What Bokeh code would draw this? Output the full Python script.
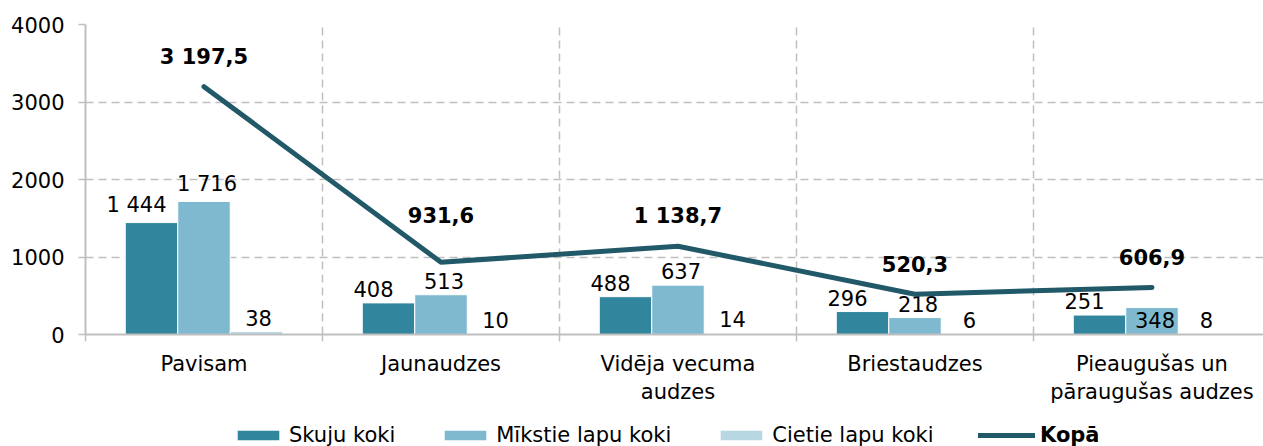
from bokeh.plotting import figure
from bokeh.layouts import column
from bokeh.models import (Range1d, FixedTicker, Legend, LegendItem, ColumnDataSource)
from bokeh.core.properties import value
from bokeh.embed import file_html
from bokeh.resources import INLINE

# ---- data ----
categories = ["Pavisam", "Jaunaudzes", "Vidēja vecuma\naudzes", "Briestaudzes",
              "Pieaugušas un\npāraugušas audzes"]
skuju = [1444, 408, 488, 296, 251]
mikstie = [1716, 513, 637, 218, 348]
cietie = [38, 10, 14, 6, 8]
kopa = [3197.5, 931.6, 1138.7, 520.3, 606.9]
series_names = ["Skuju koki", "Mīkstie lapu koki", "Cietie lapu koki"]
line_name = "Kopā"
y_ticks = [0, 1000, 2000, 3000, 4000]

# ---- style ----
C_DARK = "#31859C"
C_MID = "#7EB9CF"
C_LIGHT = "#B7D7E3"
C_LINE = "#215968"
GRID = "#BFBFBF"
FONT = "DejaVu Sans"
FS = "21px"
BW = 0.2215
W = 1263
H_MAIN = 412
H_LEG = 34
kopa_label_lift = [30, 47, 30, 30, 30]     # px above point (label centre)
mid_label_shift = [0, 0, 0, 0, 26]         # px moved down (manual placement)
series_label_dx = [-15, 3, 2]              # px horizontal nudge of bar labels

n = len(categories)
centers = [i + 0.5 for i in range(n)]

p = figure(width=W, height=H_MAIN, output_backend="svg", toolbar_location=None,
           x_range=Range1d(0, (W - 85) / 237), y_range=Range1d(0, 4000),
           min_border_left=85, min_border_right=0, min_border_top=24,
           min_border_bottom=H_MAIN - 334, outline_line_color=None)

def fmt_int(v):
    return f"{v:,}".replace(",", " ")

def fmt_dec(v):
    return f"{v:,.1f}".replace(",", " ").replace(".", ",")

colors = [C_DARK, C_MID, C_LIGHT]
for k, (vals, col) in enumerate(zip([skuju, mikstie, cietie], colors)):
    off = (k - 1) * BW
    xs = [c + off for c in centers]
    p.vbar(x=xs, top=vals, width=BW, fill_color=col, line_color="white", line_width=1)
    shifts = mid_label_shift if k == 1 else [0] * n
    src = ColumnDataSource(dict(x=xs, y=vals, t=[fmt_int(v) for v in vals],
                                yo=[-6 + s for s in shifts]))
    p.text(x="x", y="y", text="t", y_offset="yo", x_offset=series_label_dx[k], source=src,
           text_align="center", text_baseline="bottom",
           text_font=value(FONT), text_font_size=FS, text_color="black")

p.line(centers, kopa, line_width=5, line_color=C_LINE, line_cap="round", line_join="round")
src_k = ColumnDataSource(dict(x=centers, y=kopa, t=[fmt_dec(v) for v in kopa],
                              yo=[-l for l in kopa_label_lift]))
p.text(x="x", y="y", text="t", y_offset="yo", source=src_k,
       text_align="center", text_baseline="middle", text_font=value(FONT),
       text_font_size=FS, text_font_style="bold", text_color="black")

# axes
xa = p.xaxis[0]
xa.ticker = FixedTicker(ticks=centers, minor_ticks=list(range(n)))
xa.major_label_overrides = {c: lab for c, lab in zip(centers, categories)}
xa.major_tick_line_color = None
xa.minor_tick_in = 0
xa.minor_tick_out = 7
xa.minor_tick_line_color = GRID
xa.minor_tick_line_width = 1.5
xa.axis_line_color = GRID
xa.axis_line_width = 2
xa.major_label_standoff = 10
xa.major_label_text_font = FONT
xa.major_label_text_font_size = FS
xa.major_label_text_color = "black"

ya = p.yaxis[0]
ya.ticker = FixedTicker(ticks=y_ticks)
ya.minor_tick_line_color = None
ya.major_tick_in = 0
ya.major_tick_out = 7
ya.major_tick_line_color = GRID
ya.major_tick_line_width = 1.5
ya.axis_line_color = GRID
ya.axis_line_width = 2
ya.major_label_standoff = 14
ya.major_label_text_font = FONT
ya.major_label_text_font_size = FS
ya.major_label_text_color = "black"

p.ygrid.ticker = FixedTicker(ticks=y_ticks[1:])
p.ygrid.grid_line_color = GRID
p.ygrid.grid_line_dash = "8 5"
p.ygrid.grid_line_width = 1.5
p.xgrid.ticker = FixedTicker(ticks=list(range(1, n)))
p.xgrid.grid_line_color = GRID
p.xgrid.grid_line_dash = "8 5"
p.xgrid.grid_line_width = 1.5

# ---- legend strip (frame is aligned with the main frame by the column) ----
pl = figure(width=W, height=H_LEG, output_backend="svg", toolbar_location=None,
            x_range=Range1d(0, 1), y_range=Range1d(0, 1),
            x_axis_location=None, y_axis_location=None,
            min_border=0, outline_line_color=None,
            background_fill_color=None, border_fill_color=None)
for g in pl.grid:
    g.visible = False
    g.grid_line_color = None
# proxy renderers (placed below the visible y range) that only supply legend swatches
leg_r = [pl.vbar(x=[0.5], top=[-5], bottom=[-6], width=0.1, fill_color=c, line_color=None)
         for c in colors]
leg_l = pl.line(x=[0.4, 0.6], y=[-5, -5], line_width=5, line_color=C_LINE, line_cap="round")

def make_legend(items, loc, bold, gw):
    return Legend(items=items, location=loc, orientation="horizontal",
                  border_line_color=None, background_fill_alpha=0, padding=0, margin=0,
                  spacing=44, glyph_width=gw, glyph_height=12,
                  label_standoff=5, label_height=12, label_text_font=FONT,
                  label_text_font_size=FS, label_text_color="black",
                  label_text_font_style="bold" if bold else "normal",
                  label_text_baseline="middle")

leg1 = make_legend([LegendItem(label=nm, renderers=[r]) for nm, r in zip(series_names, leg_r)],
                   (232 - 85, -1), False, 52)
leg2 = make_legend([LegendItem(label=line_name, renderers=[leg_l])], (978 - 85, -1), True, 57)
pl.add_layout(leg1, "center")
pl.add_layout(leg2, "center")

layout = column(p, pl, spacing=0)
open("out.html", "w").write(file_html(layout, INLINE))
